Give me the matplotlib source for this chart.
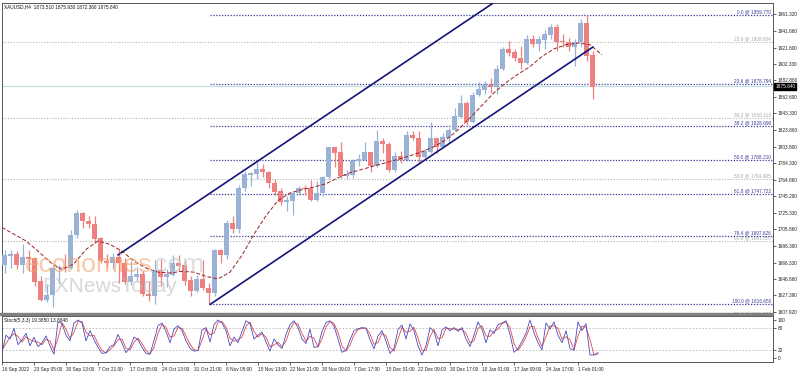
import matplotlib
matplotlib.use('Agg')
import matplotlib.pyplot as plt
import matplotlib.transforms as mtransforms
from matplotlib.patches import Rectangle
import numpy as np

plt.rcParams['font.family'] = ['Liberation Sans', 'DejaVu Sans']

# daily candles (XAUUSD) from 16 Sep 2022 to 3 Feb 2023
first_open = 1664.0
highs = [1681, 1681, 1680, 1688, 1681, 1673, 1651, 1641, 1663, 1664,
         1676, 1705, 1729, 1726, 1722, 1722, 1697, 1676, 1678, 1682,
         1672, 1668, 1661, 1656, 1645, 1670, 1671, 1659, 1675, 1675,
         1668, 1650, 1652, 1670, 1642, 1683, 1683, 1717, 1722, 1758,
         1775, 1774, 1786, 1783, 1775, 1765, 1755, 1745, 1750, 1757,
         1759, 1764, 1763, 1769, 1804, 1804, 1810, 1776, 1789, 1795,
         1810, 1797, 1824, 1814, 1809, 1798, 1799, 1822, 1823, 1823,
         1801, 1833, 1814, 1820, 1826, 1850, 1865, 1858, 1869, 1881,
         1882, 1886, 1901, 1922, 1929, 1920, 1924, 1936, 1937, 1935,
         1942, 1949, 1949, 1938, 1933, 1932, 1955, 1959.77, 1918]
lows = [1654, 1660, 1659, 1654, 1656, 1639, 1621, 1619, 1614, 1641,
        1655, 1659, 1696, 1707, 1707, 1690, 1666, 1660, 1659, 1642,
        1641, 1640, 1644, 1627, 1621, 1617, 1638, 1637, 1651, 1656,
        1640, 1627, 1632, 1634, 1616.65, 1627, 1666, 1671, 1701, 1702,
        1751, 1757, 1766, 1768, 1755, 1747, 1735, 1727, 1723, 1746,
        1747, 1740, 1740, 1745, 1765, 1780, 1767, 1765, 1767, 1781,
        1788, 1774, 1780, 1797, 1774, 1774, 1785, 1787, 1812, 1784,
        1790, 1796, 1797, 1802, 1808, 1822, 1838, 1830, 1832, 1864,
        1866, 1868, 1867, 1895, 1911, 1906, 1896, 1902, 1922, 1918,
        1920, 1932, 1918, 1922, 1917, 1900, 1922, 1906, 1861]
closes = [1675, 1676, 1664, 1673, 1671, 1644, 1622, 1628, 1660, 1661,
          1660, 1699, 1725, 1716, 1712, 1695, 1668, 1666, 1673, 1666,
          1644, 1650, 1652, 1629, 1627, 1657, 1649, 1652, 1665, 1663,
          1645, 1633, 1647, 1636, 1630, 1681, 1676, 1713, 1706, 1755,
          1771, 1772, 1777, 1774, 1761, 1751, 1738, 1740, 1749, 1755,
          1754, 1741, 1749, 1768, 1803, 1797, 1769, 1771, 1787, 1789,
          1797, 1781, 1810, 1807, 1777, 1793, 1788, 1817, 1814, 1792,
          1798, 1814, 1804, 1815, 1824, 1840, 1855, 1833, 1865, 1872,
          1877, 1875, 1896, 1920, 1916, 1909, 1904, 1932, 1926, 1931,
          1937, 1946, 1929, 1928, 1923, 1928, 1950, 1912, 1875.64]

# dashed moving average, one reading every 12 bars
ma_values = [1708, 1700, 1692, 1680, 1667, 1658, 1665, 1682, 1692, 1688,
             1680, 1668, 1660, 1655, 1654, 1656, 1655, 1650, 1647, 1655,
             1675, 1700, 1722, 1740, 1749, 1753, 1756, 1760, 1767, 1773,
             1777, 1781, 1785, 1789, 1793, 1798, 1804, 1812, 1824, 1838,
             1853, 1868, 1880, 1890, 1899, 1911, 1920, 1925, 1927, 1925,
             1913]

# stochastic (5,3,3), one reading every 4 bars
stoch_k = [15, 60, 50, 78, 35, 48, 65, 32, 55, 30,
           40, 58, 32, 10, 95, 91, 60, 45, 92, 100,
           92, 45, 72, 48, 28, 12, 14, 30, 35, 62,
           39, 14, 28, 55, 48, 28, 12, 10, 46, 85,
           92, 70, 40, 76, 85, 72, 45, 26, 18, 20,
           74, 80, 42, 88, 100, 92, 72, 32, 55, 40,
           70, 98, 91, 50, 60, 68, 42, 18, 50, 35,
           25, 62, 88, 98, 80, 50, 38, 76, 28, 30,
           70, 93, 98, 84, 50, 15, 20, 48, 72, 77,
           80, 78, 48, 24, 58, 72, 44, 12, 25, 75,
           87, 50, 90, 72, 32, 8, 32, 80, 70, 32,
           74, 82, 72, 80, 70, 80, 50, 30, 60, 95,
           76, 40, 74, 65, 88, 92, 98, 62, 15, 25,
           44, 65, 100, 66, 40, 21, 92, 76, 95, 60,
           40, 72, 25, 20, 95, 72, 90, 8, 8, 14]
stoch_d = [20, 38, 55, 64, 57, 42, 56, 48, 44, 42,
           35, 49, 45, 21, 52, 93, 76, 52, 68, 96,
           96, 68, 58, 60, 38, 20, 13, 22, 32, 48,
           50, 26, 21, 42, 52, 38, 20, 11, 28, 65,
           88, 81, 55, 58, 80, 78, 58, 36, 22, 19,
           47, 77, 61, 65, 94, 96, 82, 52, 44, 48,
           55, 84, 94, 70, 55, 64, 55, 30, 34, 42,
           30, 44, 75, 93, 89, 65, 44, 57, 52, 29,
           50, 82, 96, 91, 67, 32, 18, 34, 60, 75,
           78, 79, 63, 36, 41, 65, 58, 28, 18, 50,
           81, 68, 70, 81, 52, 20, 20, 56, 75, 51,
           53, 78, 77, 76, 75, 75, 65, 40, 45, 78,
           85, 58, 57, 70, 76, 90, 95, 80, 38, 20,
           35, 55, 82, 83, 53, 30, 56, 84, 85, 78,
           50, 56, 48, 22, 58, 84, 81, 49, 8, 11]

# fibonacci retracements
fib_pct = [0.0, 23.6, 38.2, 50.0, 61.8, 76.4, 100.0]
fib_blue = [1959.770, 1878.794, 1828.696, 1788.210, 1747.722, 1697.626, 1616.650]
fib_grey_pct = [23.6, 38.2, 50.0, 61.8, 76.4]
fib_grey = [1928.604, 1838.113, 1764.985, 1691.857, 1601.670]

# channel anchors (bar, price)
chan_lower = [(208, 1616.65), (591, 1922.3)]
chan_upper = [(116, 1675.4), (591, 2054.0)]

price_ticks = [1961.320, 1941.660, 1921.600, 1902.330, 1882.860, 1862.600,
               1843.330, 1823.860, 1803.800, 1784.330, 1764.860, 1745.290,
               1725.330, 1705.860, 1686.390, 1666.330, 1646.860, 1627.390,
               1607.920]
time_labels = ['16 Sep 2022', '23 Sep 05:00', '30 Sep 13:00', '7 Oct 21:00',
               '17 Oct 05:00', '24 Oct 13:00', '31 Oct 21:00', '8 Nov 05:00',
               '15 Nov 13:00', '22 Nov 21:00', '30 Nov 09:00', '7 Dec 17:00',
               '15 Dec 01:00', '22 Dec 09:00', '30 Dec 17:00', '10 Jan 01:00',
               '17 Jan 09:00', '24 Jan 17:00', '1 Feb 01:00']
last_price = 1875.64

W, H = 798, 372
fig = plt.figure(figsize=(W / 100, H / 100), dpi=100)
fig.patch.set_facecolor('white')


def box(l, t, r, b):
    return [l / W, 1 - b / H, (r - l) / W, (b - t) / H]


ax = fig.add_axes(box(2, 3, 773, 313))
st = fig.add_axes(box(2, 316, 773, 362), sharex=ax)

FS = 3.4
UP = '#9ab2d6'
DOWN = '#ef8080'
NAVY = '#14147a'

# candles
days = np.arange(len(closes))
xc = days * 6 + 2.5
opens = np.array([first_open] + closes[:-1])
cl = np.array(closes)
col = [UP if c >= o else DOWN for o, c in zip(opens, cl)]
ax.vlines(xc, lows, highs, colors=col, linewidth=0.9, zorder=3)
ax.bar(xc, np.abs(cl - opens) + 0.6, bottom=np.minimum(cl, opens) - 0.3,
       width=4.4, color=col, linewidth=0, zorder=3)

# moving average
ax.plot(np.arange(len(ma_values)) * 12, ma_values, color='#9b2020',
        linewidth=0.7, linestyle=(0, (4, 2)), zorder=4)

# grey fib
for p, v in zip(fib_grey_pct, fib_grey):
    ax.axhline(v, color='#b4b4b4', linewidth=0.8, linestyle=(0, (1, 1.5)), zorder=1)
    ax.text(769, v + 0.8, f'{p:.1f} @ {v:.3f}', fontsize=FS, color='#a8a8a8',
            ha='right', va='bottom', zorder=2)

# blue fib
for p, v in zip(fib_pct, fib_blue):
    ax.plot([chan_lower[0][0], 771], [v, v], color='#3a3a9a', linewidth=0.9,
            linestyle=(0, (1, 1.3)), zorder=2)
    ax.text(769, v + 0.8, f'{p:.1f} @ {v:.3f}', fontsize=FS, color='#3a3a9a',
            ha='right', va='bottom', zorder=2)

# current price line
ax.axhline(last_price, color='#bfe0e0', linewidth=0.8, zorder=1)

# channel
for seg in (chan_lower, chan_upper):
    ax.plot([seg[0][0], seg[1][0]], [seg[0][1], seg[1][1]], color=NAVY,
            linewidth=1.2, zorder=5, solid_capstyle='round')

ax.set_xlim(0, 771)
ax.set_ylim(1606.5, 1974.5)
ax.yaxis.tick_right()
ax.set_yticks(price_ticks)
ax.set_yticklabels([f'{v:.3f}' for v in price_ticks], fontsize=FS)
ax.tick_params(axis='y', length=2, width=0.5, pad=1.5, colors='#222222')
ax.tick_params(axis='x', bottom=False, labelbottom=False)

# price tag
tr = mtransforms.blended_transform_factory(ax.transAxes, ax.transData)
ax.text(1.003, last_price, f'{last_price:.3f}', transform=tr, fontsize=FS,
        color='white', va='center', ha='left',
        bbox=dict(boxstyle='square,pad=0.25', fc='black', ec='black'))

# stochastic
xs = np.arange(len(stoch_k)) * 4
st.plot(xs, stoch_d, color='#e04848', linewidth=0.6, zorder=3)
st.plot(xs, stoch_k, color='#4b4bbf', linewidth=0.6, zorder=4)
for lvl in (20, 80):
    st.axhline(lvl, color='#b8b8b8', linewidth=0.6, linestyle=(0, (2, 2)))
st.set_ylim(-10.5, 110.5)
st.yaxis.tick_right()
st.set_yticks([0, 20, 80, 100])
st.set_yticklabels(['0', '20', '80', '100'], fontsize=FS)
st.tick_params(axis='y', length=2, width=0.5, pad=1.5, colors='#222222')
st.set_xticks(np.arange(len(time_labels)) * 32)
st.set_xticklabels(time_labels, fontsize=FS, ha='left')
st.tick_params(axis='x', length=2, width=0.5, pad=1.5, colors='#222222')

for a in (ax, st):
    for s in a.spines.values():
        s.set_color('#555555')
        s.set_linewidth(0.7)

fig.add_artist(Rectangle((0, 1 - 315.2 / H), 773 / W, 1.8 / H,
                         transform=fig.transFigure, color='#808080'))

# texts
fig.text(4 / W, 1 - 7 / H, 'XAUUSD,H4  1873.510 1875.930 1872.360 1875.640',
         fontsize=FS, va='center', ha='left', color='#111111')
st.text(2, 104, 'Stoch(5,3,3) 19.3850 13.8848', fontsize=FS, va='top',
        ha='left', color='#111111')

# watermark
fig.text(25 / W, 1 - 272 / H, 'economies', fontsize=19, color='#f5a46c',
         alpha=0.6, ha='left', va='baseline')
fig.text(148 / W, 1 - 272 / H, '.com', fontsize=19, color='#c8c8c8',
         alpha=0.6, ha='left', va='baseline')
fig.text(42 / W, 1 - 292 / H, 'FXNewsToday', fontsize=15, color='#bdbdbd',
         alpha=0.6, ha='left', va='baseline')

fig.savefig('out.png', dpi=100, facecolor='white')
